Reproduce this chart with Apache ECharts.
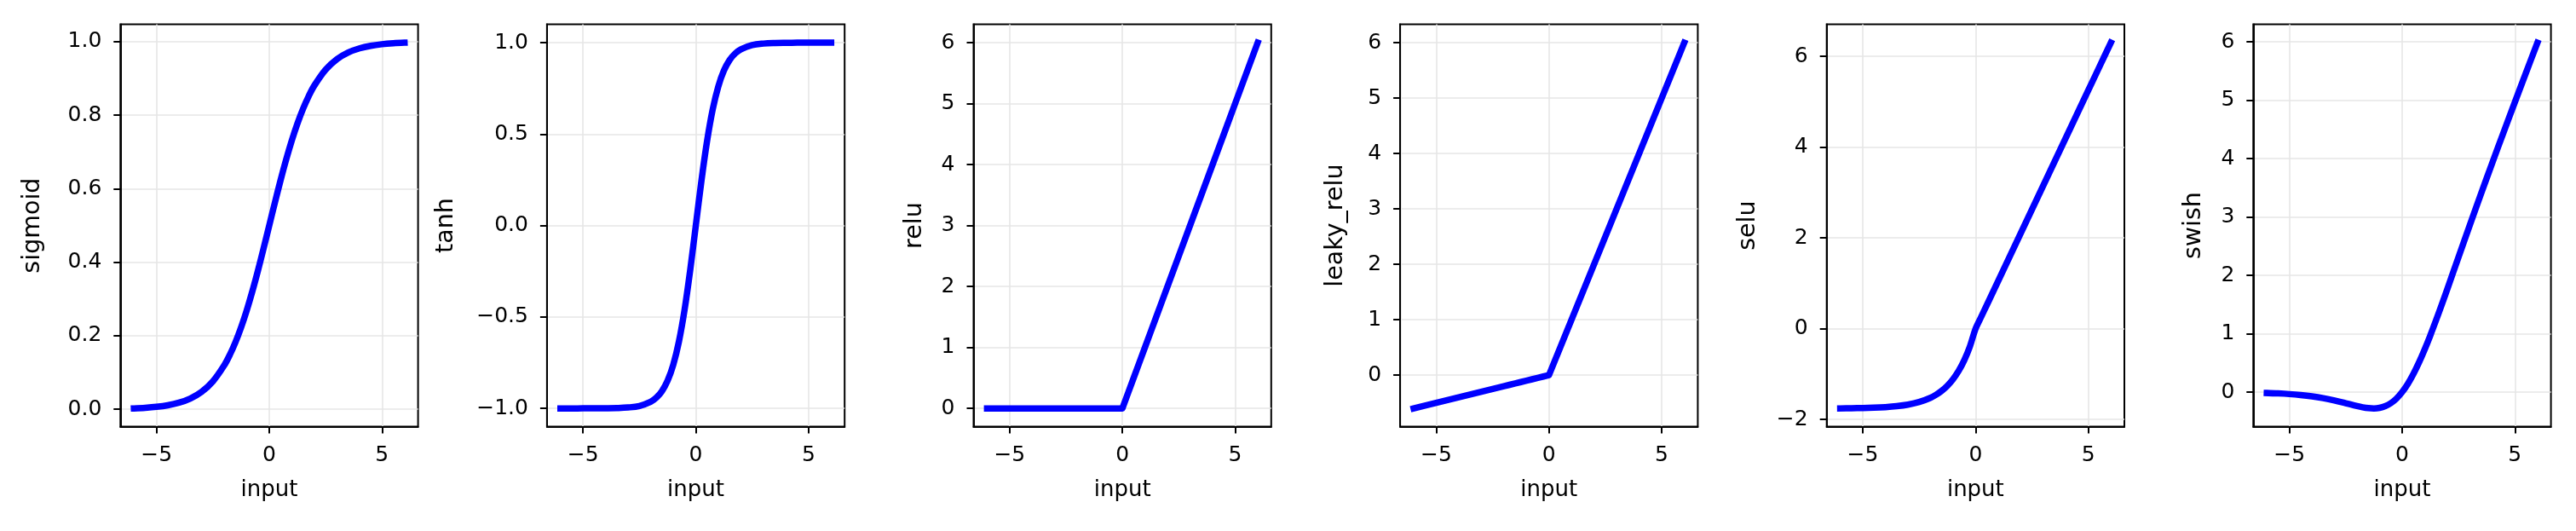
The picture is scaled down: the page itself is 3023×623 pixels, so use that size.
<!DOCTYPE html>
<html>
<head>
<meta charset="utf-8">
<script src="https://cdn.jsdelivr.net/npm/echarts@6/dist/echarts.min.js"></script>
<style>
html,body{margin:0;padding:0;background:#fff;}
#chart{width:3023px;height:623px;}
</style>
</head>
<body>
<div id="chart"></div>
<script>
// ---- data ----
const inputs = [-6,-5.5,-5,-4.5,-4,-3.5,-3,-2.5,-2,-1.75,-1.5,-1.25,-1,-0.75,-0.5,-0.25,0,0.25,0.5,0.75,1,1.25,1.5,1.75,2,2.5,3,3.5,4,4.5,5,5.5,6];
const sigmoidVals = [0.0025,0.0041,0.0067,0.011,0.018,0.0293,0.0474,0.0759,0.1192,0.148,0.1824,0.2227,0.2689,0.3208,0.3775,0.4378,0.5,0.5622,0.6225,0.6792,0.7311,0.7773,0.8176,0.852,0.8808,0.9241,0.9526,0.9707,0.982,0.989,0.9933,0.9959,0.9975];
const tanhVals = [-1.0,-1.0,-0.9999,-0.9998,-0.9993,-0.9982,-0.995,-0.9866,-0.964,-0.9414,-0.9052,-0.8483,-0.7616,-0.6352,-0.4621,-0.2449,0,0.2449,0.4621,0.6352,0.7616,0.8483,0.9052,0.9414,0.964,0.9866,0.995,0.9982,0.9993,0.9998,0.9999,1.0,1.0];
const reluVals = [0,0,0,0,0,0,0,0,0,0,0,0,0,0,0,0,0,0.25,0.5,0.75,1,1.25,1.5,1.75,2,2.5,3,3.5,4,4.5,5,5.5,6];
const leakyReluVals = [-0.6,-0.55,-0.5,-0.45,-0.4,-0.35,-0.3,-0.25,-0.2,-0.175,-0.15,-0.125,-0.1,-0.075,-0.05,-0.025,0,0.25,0.5,0.75,1,1.25,1.5,1.75,2,2.5,3,3.5,4,4.5,5,5.5,6];
const seluVals = [-1.754,-1.751,-1.746,-1.739,-1.726,-1.705,-1.671,-1.614,-1.52,-1.453,-1.366,-1.254,-1.111,-0.928,-0.692,-0.389,0,0.263,0.525,0.788,1.051,1.313,1.576,1.839,2.101,2.627,3.152,3.678,4.203,4.728,5.254,5.779,6.304];
const swishVals = [-0.0148,-0.0224,-0.0335,-0.0495,-0.0719,-0.1026,-0.1423,-0.1897,-0.2384,-0.2591,-0.2736,-0.2784,-0.2689,-0.2406,-0.1888,-0.1095,0,0.1405,0.3112,0.5094,0.7311,0.9716,1.2264,1.4909,1.7616,2.3104,2.8577,3.3974,3.9281,4.4506,4.9665,5.4776,5.9852];

const panelNames = ['sigmoid','tanh','relu','leaky_relu','selu','swish'];
const xTicks = [-5, 0, 5];
const sigmoidTicks = [0, 0.2, 0.4, 0.6, 0.8, 1.0];
const tanhTicks = [-1.0, -0.5, 0, 0.5, 1.0];
const reluTicks = [0, 1, 2, 3, 4, 5, 6];
const leakyReluTicks = [0, 1, 2, 3, 4, 5, 6];
const seluTicks = [-2, 0, 2, 4, 6];
const swishTicks = [0, 1, 2, 3, 4, 5, 6];
const xLabel = 'input';

// ---- assembly ----
const seriesVals = [sigmoidVals, tanhVals, reluVals, leakyReluVals, seluVals, swishVals];
const yTickSets = [sigmoidTicks, tanhTicks, reluTicks, leakyReluTicks, seluTicks, swishTicks];
const decimals = [1, 1, 0, 0, 0, 0];
const smoothFlags = [0.35, 0.35, false, false, 0.25, 0.35];
const nameGaps = [88, 104, 54, 61, 78, 55];

const FONT = 'DejaVu Sans';
const FS_TICK = 25, FS_X = 26, FS_Y = 28.5;
const GL = 141.3, GSTEP = 500.6, GW = 349.3, GT = 28.6, GH = 472;

function padExtent(arr) {
  const mn = Math.min.apply(null, arr), mx = Math.max.apply(null, arr);
  const m = (mx - mn) * 0.05;
  return [mn - m, mx + m];
}
function fmt(v, d) {
  let s = v.toFixed(d);
  if (parseFloat(s) === 0) s = (0).toFixed(d);
  return s.replace('-', '\u2212');
}

const grids = [], xAxes = [], yAxes = [], series = [];
const xExt = padExtent(inputs);
panelNames.forEach((name, i) => {
  grids.push({
    left: GL + GSTEP * i, top: GT, width: GW, height: GH,
    show: true, borderColor: '#000', borderWidth: 2, backgroundColor: 'transparent',
    containLabel: false
  });
  xAxes.push({
    type: 'value', gridIndex: i, min: xExt[0], max: xExt[1],
    name: xLabel, nameLocation: 'middle', nameGap: 62,
    nameTextStyle: { fontFamily: FONT, fontSize: FS_X, color: '#000' },
    axisLine: { show: true, onZero: false, lineStyle: { color: '#000', width: 2 } },
    axisTick: { show: true, length: 8, lineStyle: { color: '#000', width: 2 }, customValues: xTicks },
    axisLabel: { fontFamily: FONT, fontSize: FS_TICK, color: '#000', margin: 21, customValues: xTicks,
      formatter: v => fmt(v, 0) },
    splitLine: { show: true, lineStyle: { color: '#e6e6e6', width: 1.6 } }
  });
  const yExt = padExtent(seriesVals[i]);
  yAxes.push({
    type: 'value', gridIndex: i, min: yExt[0], max: yExt[1],
    name: name, nameLocation: 'middle', nameGap: nameGaps[i], nameRotate: 90,
    nameTextStyle: { fontFamily: FONT, fontSize: FS_Y, color: '#000' },
    axisLine: { show: true, onZero: false, lineStyle: { color: '#000', width: 2 } },
    axisTick: { show: true, length: 8, lineStyle: { color: '#000', width: 2 }, customValues: yTickSets[i] },
    axisLabel: { fontFamily: FONT, fontSize: FS_TICK, color: '#000', margin: 22, customValues: yTickSets[i],
      formatter: (d => v => fmt(v, d))(decimals[i]) },
    splitLine: { show: true, lineStyle: { color: '#e6e6e6', width: 1.6 } }
  });
  series.push({
    type: 'line', xAxisIndex: i, yAxisIndex: i,
    data: inputs.map((x, k) => [x, seriesVals[i][k]]),
    showSymbol: false, symbol: 'none', smooth: smoothFlags[i],
    lineStyle: { color: '#0000ff', width: 7.5, cap: 'square', join: 'round' },
    z: 5
  });
});

const chart = echarts.init(document.getElementById('chart'), null, { renderer: 'canvas' });
chart.setOption({
  animation: false,
  backgroundColor: '#fff',
  grid: grids, xAxis: xAxes, yAxis: yAxes, series: series
});
</script>
</body>
</html>
